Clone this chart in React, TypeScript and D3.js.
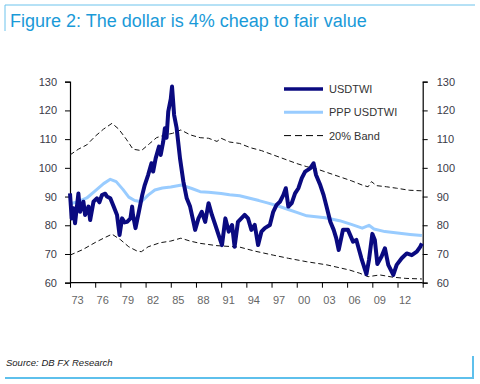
import React, { useEffect, useRef } from 'react';
import * as d3 from 'd3';

// [decimal year, index value]
const usdtwi: [number, number][] = [
  [1973.0, 91.1], [1973.2, 82.4], [1973.4, 85.9], [1973.6, 80.7], [1974.0, 91.1],
  [1974.2, 84.7], [1974.6, 88.2], [1974.8, 83.6], [1975.2, 86.5], [1975.4, 81.8],
  [1975.8, 88.2], [1976.2, 89.4], [1976.5, 88.0], [1976.8, 90.5], [1977.2, 91.0],
  [1977.4, 90.0], [1977.8, 89.4], [1978.2, 86.5], [1978.6, 83.6], [1978.9, 76.6],
  [1979.2, 82.4], [1979.5, 81.0], [1979.8, 81.2], [1980.2, 82.4], [1980.4, 86.5],
  [1980.5, 83.6], [1980.8, 79.0], [1981.2, 84.7], [1981.6, 90.5], [1981.9, 94.0],
  [1982.3, 97.5], [1982.7, 101.6], [1982.9, 98.7], [1983.2, 103.3], [1983.6, 107.4],
  [1983.8, 104.5], [1984.1, 109.1], [1984.3, 113.8], [1984.5, 110.5], [1984.7, 119.6],
  [1985.0, 124.0], [1985.15, 128.3], [1985.4, 118.4], [1985.7, 113.8], [1986.1, 103.3],
  [1986.5, 95.2], [1986.9, 89.4], [1987.3, 86.5], [1987.7, 81.2], [1987.9, 78.4],
  [1988.3, 82.4], [1988.7, 84.7], [1989.1, 81.2], [1989.5, 87.7], [1989.9, 83.6],
  [1990.3, 80.1], [1990.7, 76.6], [1991.1, 73.1], [1991.5, 82.4], [1991.9, 77.8],
  [1992.3, 80.1], [1992.6, 72.5], [1993.0, 81.2], [1993.4, 82.4], [1993.8, 83.6],
  [1994.2, 82.4], [1994.6, 78.4], [1995.0, 80.1], [1995.4, 73.1], [1995.8, 77.8],
  [1996.2, 79.0], [1996.8, 80.1], [1997.2, 84.7], [1997.6, 87.1], [1998.0, 88.2],
  [1998.4, 90.5], [1998.7, 92.9], [1999.0, 86.5], [1999.4, 87.7], [1999.8, 91.1],
  [2000.2, 92.9], [2000.6, 96.4], [2001.0, 98.7], [2001.6, 99.8], [2002.0, 101.6],
  [2002.3, 97.5], [2002.8, 94.0], [2003.2, 90.5], [2003.6, 85.9], [2004.0, 81.2],
  [2004.4, 78.4], [2004.7, 75.5], [2005.0, 71.4], [2005.5, 78.4], [2006.1, 78.4],
  [2006.7, 74.3], [2007.1, 74.9], [2007.7, 68.5], [2008.3, 63.0], [2008.6, 67.9],
  [2009.0, 77.0], [2009.3, 74.9], [2009.6, 66.5], [2010.1, 69.1], [2010.5, 72.0],
  [2010.9, 66.2], [2011.5, 62.7], [2011.9, 66.2], [2012.5, 68.5], [2013.1, 70.2],
  [2013.7, 69.6], [2014.3, 70.8], [2014.7, 72.5], [2014.9, 73.7],
];

const pppUsdtwi: [number, number][] = [
  [1973.0, 87.5], [1974.0, 88.2], [1975.0, 89.5], [1976.0, 92.0], [1977.0, 94.5],
  [1977.8, 96.0], [1978.5, 95.2], [1979.3, 92.5], [1980.0, 89.8], [1980.7, 88.6],
  [1981.5, 88.2], [1982.3, 90.5], [1983.1, 92.3], [1984.0, 93.0], [1985.0, 93.3],
  [1986.3, 94.0], [1987.5, 92.8], [1988.5, 91.7], [1989.5, 91.5], [1991.0, 91.1],
  [1992.0, 90.6], [1993.2, 90.3], [1994.4, 89.4], [1995.5, 88.6], [1996.5, 87.8],
  [1997.8, 86.7], [1999.0, 85.5], [2000.0, 84.5], [2001.2, 83.3], [2003.4, 82.6],
  [2005.1, 81.6], [2006.5, 80.3], [2007.8, 79.0], [2008.6, 80.0], [2009.2, 78.7],
  [2010.5, 77.8], [2012.0, 77.3], [2013.5, 76.8], [2014.9, 76.4],
];

const upperBand: [number, number][] = [
  [1973.0, 104.5], [1974.0, 106.5], [1975.0, 108.0], [1976.0, 111.0], [1977.0, 113.5],
  [1978.0, 115.5], [1978.8, 113.5], [1979.7, 110.0], [1980.5, 106.5], [1981.5, 106.0],
  [1982.5, 108.5], [1983.3, 110.5], [1984.3, 111.5], [1985.2, 112.0], [1986.2, 113.2],
  [1987.3, 111.5], [1988.5, 110.5], [1989.5, 110.3], [1990.5, 109.2], [1991.0, 110.3],
  [1992.0, 109.0], [1993.2, 108.5], [1994.5, 107.0], [1995.8, 106.0], [1997.2, 104.5],
  [1998.6, 103.0], [2000.0, 101.5], [2001.2, 100.4], [2002.5, 99.5], [2003.5, 98.5],
  [2005.1, 96.9], [2006.5, 95.5], [2007.8, 94.0], [2008.5, 93.4], [2008.9, 95.2],
  [2009.5, 93.8], [2010.7, 93.4], [2011.9, 92.9], [2013.4, 92.2], [2014.9, 92.0],
];

const lowerBand: [number, number][] = [
  [1973.0, 69.6], [1974.5, 71.5], [1976.0, 74.0], [1977.0, 75.5], [1978.0, 76.9],
  [1979.0, 75.0], [1980.0, 72.5], [1981.0, 71.0], [1981.5, 70.8], [1982.3, 72.5],
  [1983.7, 73.9], [1985.0, 74.5], [1986.2, 75.5], [1987.3, 74.5], [1988.5, 73.7],
  [1990.5, 72.9], [1993.2, 72.4], [1995.0, 71.0], [1997.2, 69.6], [1999.0, 68.5],
  [2001.2, 67.3], [2003.6, 66.2], [2006.3, 64.4], [2007.5, 63.3], [2008.5, 62.1],
  [2009.9, 62.7], [2011.5, 61.9], [2013.0, 61.5], [2014.9, 61.3],
];

const yearTicks = [1973, 1976, 1979, 1982, 1985, 1988, 1991, 1994, 1997, 2000, 2003, 2006, 2009, 2012, 2015];
const yearLabels = ['73', '76', '79', '82', '85', '88', '91', '94', '97', '00', '03', '06', '09', '12', ''];
const valueTicks = [60, 70, 80, 90, 100, 110, 120, 130];

const legendItems = [
  { label: 'USDTWI', color: '#0a0a80', width: 3.5, dash: null as string | null },
  { label: 'PPP USDTWI', color: '#99ccff', width: 3, dash: null as string | null },
  { label: '20% Band', color: '#000', width: 1, dash: '7,4' },
];

const FONT = '"Liberation Sans", Arial, sans-serif';

const App = () => {
  const ref = useRef<SVGSVGElement | null>(null);

  useEffect(() => {
    if (!ref.current) return;
    const svg = d3.select(ref.current);
    svg.selectAll('*').remove();

    const left = 70, right = 422.7, top = 81.7, bottom = 282.7;

    const x = d3.scaleLinear().domain([1973, 2015]).range([left, right]);
    const y = d3.scaleLinear().domain([60, 130]).range([bottom, top]);

    // frame: title and source
    svg.append('line').attr('x1', 5).attr('x2', 475).attr('y1', 5).attr('y2', 5)
      .attr('stroke', '#6cc3ec').attr('stroke-width', 1);
    svg.append('line').attr('x1', 5).attr('x2', 5).attr('y1', 5).attr('y2', 31)
      .attr('stroke', '#6cc3ec').attr('stroke-width', 1);
    svg.append('text').attr('x', 10).attr('y', 27)
      .attr('fill', '#1a9ad8').style('font-family', FONT).style('font-size', '18px')
      .text('Figure 2: The dollar is 4% cheap to fair value');

    svg.append('text').attr('x', 6).attr('y', 366)
      .attr('fill', '#222').style('font-family', FONT).style('font-size', '9.5px')
      .style('font-style', 'italic')
      .text('Source: DB FX Research');
    svg.append('line').attr('x1', 5).attr('x2', 474).attr('y1', 378).attr('y2', 378)
      .attr('stroke', '#5ec0ec').attr('stroke-width', 2);
    svg.append('line').attr('x1', 473).attr('x2', 473).attr('y1', 356).attr('y2', 379)
      .attr('stroke', '#5ec0ec').attr('stroke-width', 2);

    // axes
    const leftAxis = svg.append('g').attr('transform', `translate(${left},0)`)
      .call(d3.axisLeft(y).tickValues(valueTicks).tickSize(5).tickPadding(8).tickFormat(d3.format('d')));
    const rightAxis = svg.append('g').attr('transform', `translate(${right},0)`)
      .call(d3.axisRight(y).tickValues(valueTicks).tickSize(5).tickPadding(9).tickFormat(d3.format('d')));
    const bottomAxis = svg.append('g').attr('transform', `translate(0,${bottom})`)
      .call(d3.axisBottom(x).tickValues(yearTicks).tickSize(5).tickPadding(9)
        .tickFormat((d, i) => yearLabels[i]));

    [leftAxis, rightAxis, bottomAxis].forEach(g => {
      g.select('.domain').attr('stroke', '#000').attr('stroke-width', 1.2);
      g.selectAll('.tick line').attr('stroke', '#000');
      g.selectAll('text').style('font-family', FONT).style('font-size', '11px').attr('fill', '#3a3a48');
    });
    bottomAxis.selectAll('text').attr('fill', '#666').attr('dx', 7);
    bottomAxis.select('.domain').attr('d', `M${left},0H${right}`);

    const line = d3.line<[number, number]>().x(d => x(d[0])).y(d => y(d[1]));

    svg.append('path').datum(upperBand).attr('d', line).attr('fill', 'none')
      .attr('stroke', '#111').attr('stroke-width', 1).attr('stroke-dasharray', '5,3');
    svg.append('path').datum(lowerBand).attr('d', line).attr('fill', 'none')
      .attr('stroke', '#111').attr('stroke-width', 1).attr('stroke-dasharray', '5,3');
    svg.append('path').datum(pppUsdtwi).attr('d', line).attr('fill', 'none')
      .attr('stroke', '#99ccff').attr('stroke-width', 3).attr('stroke-linejoin', 'round');
    svg.append('path').datum(usdtwi).attr('d', line).attr('fill', 'none')
      .attr('stroke', '#0a0a80').attr('stroke-width', 4).attr('stroke-linejoin', 'round');

    // legend
    legendItems.forEach((item, i) => {
      const ly = 89 + i * 23.3;
      svg.append('line').attr('x1', 284).attr('x2', 323).attr('y1', ly).attr('y2', ly)
        .attr('stroke', item.color).attr('stroke-width', item.width)
        .attr('stroke-dasharray', item.dash);
      svg.append('text').attr('x', 329).attr('y', ly + 4)
        .attr('fill', '#333').style('font-family', FONT).style('font-size', '11px')
        .text(item.label);
    });
  }, []);

  return (
    <svg ref={ref} width={480} height={384}
      style={{ position: 'absolute', left: 0, top: 0, background: '#fff' }} />
  );
};

export default App;
